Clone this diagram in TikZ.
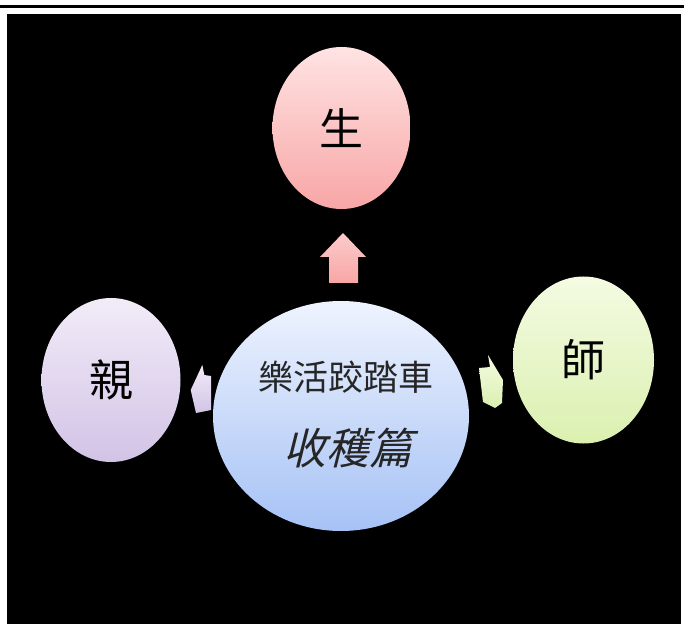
\documentclass[tikz,border=0pt]{standalone}
\usepackage{fontspec}
\newfontfamily\cjk{Noto Sans CJK TC}
\newfontfamily\cjkslant[FakeSlant=0.25]{Noto Sans CJK TC}
\usetikzlibrary{shapes.geometric}

\definecolor{pinktop}{HTML}{FFE3E3}
\definecolor{pinkbot}{HTML}{F8A6A6}
\definecolor{lilactop}{HTML}{F2ECF8}
\definecolor{lilacbot}{HTML}{D2C3E6}
\definecolor{limetop}{HTML}{F4FBE2}
\definecolor{limebot}{HTML}{DBF0B0}
\definecolor{skytop}{HTML}{EEF3FE}
\definecolor{skybot}{HTML}{A6C2F5}

\tikzset{
  bubble/.style={ellipse, inner sep=0pt, font=\cjk\fontsize{44}{44}\selectfont},
}

\begin{document}
\begin{tikzpicture}[x=1pt, y=1pt]
  \useasboundingbox (0,0) rectangle (684,624);
  \fill[white] (0,0) rectangle (684,624);
  \draw[line width=3pt] (0,617.5) -- (684,617.5);
  \fill[black] (7,0) rectangle (681,610);
  % block arrows
  \fill[top color=pinktop!60!pinkbot, bottom color=pinkbot]
    (343,391) -- (366,367) -- (358,367) -- (358,341) -- (329,341) -- (329,367) -- (320,367) -- cycle;
  \fill[top color=lilactop, bottom color=lilacbot]
    (190.7,234) -- (202.3,259) -- (204.3,249) -- (211,248) -- (211,214) -- (196,211) -- cycle;
  \fill[top color=limetop, bottom color=limebot]
    (479,256) -- (490,257) -- (488,269) -- (503,244) -- (502,221) -- (495,216) -- (483,222) -- cycle;
  % bubbles
  \node[bubble, minimum width=138pt, minimum height=162pt, top color=pinktop, bottom color=pinkbot] (sheng) at (341.5,496) {生};
  \node[bubble, minimum width=139pt, minimum height=164pt, top color=lilactop, bottom color=lilacbot] (qin) at (111,244) {親};
  \node[bubble, minimum width=141pt, minimum height=167pt, top color=limetop, bottom color=limebot] (shi) at (583.5,264) {師};
  \node[ellipse, inner sep=0pt, minimum width=256pt, minimum height=230pt, top color=skytop, bottom color=skybot] (hub) at (341,208) {};
  \node[font=\cjk\fontsize{35}{35}\selectfont, text=black!85] (title) at (346,247) {樂活跤踏車};
  \node[font=\cjkslant\fontsize{43}{43}\selectfont, text=black!85] (subtitle) at (348,176) {收穫篇};
\end{tikzpicture}
\end{document}
